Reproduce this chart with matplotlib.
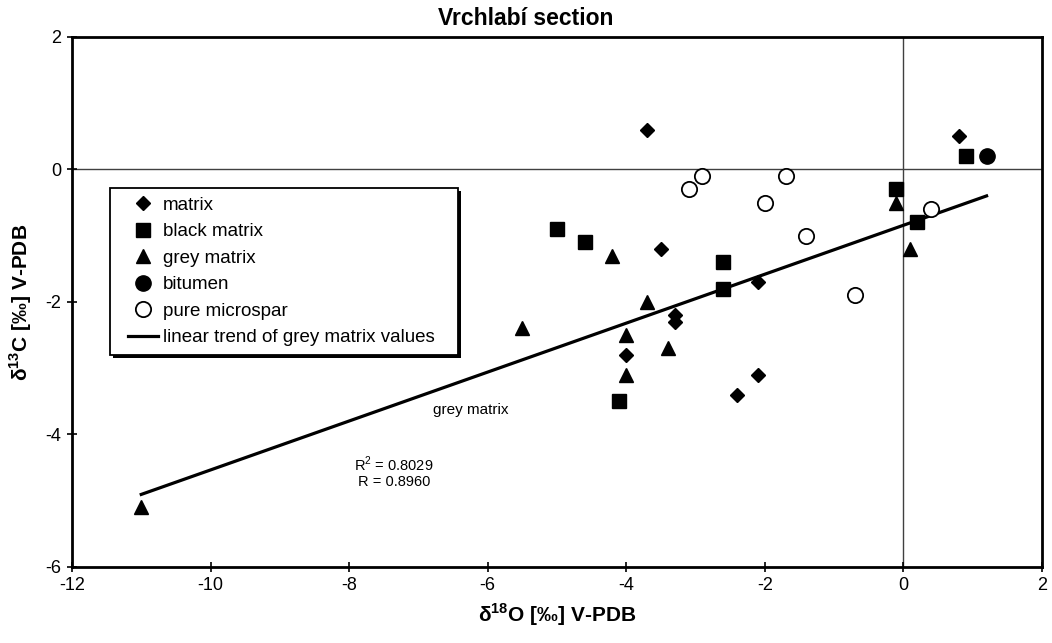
import matplotlib
matplotlib.use('Agg')
import matplotlib.pyplot as plt
from matplotlib.patches import Rectangle
import numpy as np

# delta18O / delta13C values
matrix_x = [-3.7, 0.8, -3.5, -2.1, -3.3, -3.3, -4.0, -2.1, -2.4]
matrix_y = [0.6, 0.5, -1.2, -1.7, -2.2, -2.3, -2.8, -3.1, -3.4]

black_x = [0.9, -0.1, 0.2, -5.0, -4.6, -2.6, -2.6, -4.1]
black_y = [0.2, -0.3, -0.8, -0.9, -1.1, -1.4, -1.8, -3.5]

grey_x = [-0.1, 0.1, -4.2, -3.7, -5.5, -4.0, -3.4, -4.0, -11.0]
grey_y = [-0.5, -1.2, -1.3, -2.0, -2.4, -2.5, -2.7, -3.1, -5.1]

bitumen_x = [1.2]
bitumen_y = [0.2]

micro_x = [-3.1, -2.9, -2.0, -1.7, -1.4, -0.7, 0.4]
micro_y = [-0.3, -0.1, -0.5, -0.1, -1.0, -1.9, -0.6]

plt.rcParams['font.family'] = ['Liberation Sans', 'DejaVu Sans']
plt.rcParams['mathtext.fontset'] = 'custom'
plt.rcParams['mathtext.rm'] = 'Liberation Sans'
plt.rcParams['mathtext.bf'] = 'Liberation Sans:bold'
plt.rcParams['axes.unicode_minus'] = False
narrow = ['Liberation Sans Narrow', 'Liberation Sans', 'DejaVu Sans']

fig = plt.figure(figsize=(10.52, 6.43), dpi=100)
ax = fig.add_axes([0.0684, 0.1182, 0.9221, 0.8243])

# zero lines
ax.axhline(0, color='#404040', lw=1, zorder=1)
ax.axvline(0, color='#404040', lw=1, zorder=1)

# linear trend of the grey matrix points, over the whole data range
slope, icpt = np.polyfit(grey_x, grey_y, 1)
all_x = matrix_x + black_x + grey_x + bitumen_x + micro_x
tx = np.array([min(all_x), max(all_x)])
ax.plot(tx, slope * tx + icpt, color='black', lw=2.3, zorder=2,
        label='linear trend of grey matrix values')

ax.plot(matrix_x, matrix_y, 'D', color='black', ms=7.5, ls='none', label='matrix', zorder=3)
ax.plot(black_x, black_y, 's', color='black', ms=10, ls='none', label='black matrix', zorder=3)
ax.plot(grey_x, grey_y, '^', color='black', ms=10, ls='none', label='grey matrix', zorder=3)
ax.plot(bitumen_x, bitumen_y, 'o', color='black', ms=11, ls='none', label='bitumen', zorder=3)
ax.plot(micro_x, micro_y, 'o', mfc='white', mec='black', mew=1.3, ms=11, ls='none',
        label='pure microspar', zorder=3)

ax.set_xlim(-12, 2)
ax.set_ylim(-6, 2)
ax.set_xticks(np.arange(-12, 3, 2))
ax.set_yticks(np.arange(-6, 3, 2))
ax.tick_params(direction='inout', length=7, width=1.2, labelsize=13, pad=4)
for lab in ax.get_xticklabels() + ax.get_yticklabels():
    lab.set_family(narrow)
for sp in ax.spines.values():
    sp.set_linewidth(2)

ax.set_xlabel('δ$^{\\mathbf{18}}$O [‰] V-PDB', fontsize=15, fontweight='bold', labelpad=5)
ax.set_ylabel('δ$^{\\mathbf{13}}$C [‰] V-PDB', fontsize=15, fontweight='bold', labelpad=8)
fig.text(0.5, 0.972, 'Vrchlabí section', ha='center', va='center', fontsize=16.5,
         fontweight='bold', family=narrow)

ax.text(-6.25, -3.63, 'grey matrix', fontsize=11, ha='center', va='center')
ax.text(-7.35, -4.57, 'R$^2$ = 0.8029\nR = 0.8960', fontsize=10.5, ha='center', va='center',
        linespacing=1.1)

# legend box with a hard black shadow, as in the original
sx, sy = 3 / 970, 3 / 530
box = dict(xy=(0.0392, 0.400), width=0.3588, height=0.3151, transform=ax.transAxes)
ax.add_patch(Rectangle((box['xy'][0] + sx, box['xy'][1] - sy), box['width'], box['height'],
                       transform=ax.transAxes, facecolor='black', edgecolor='none', zorder=4))
ax.add_patch(Rectangle(box['xy'], box['width'], box['height'], transform=ax.transAxes,
                       facecolor='white', edgecolor='black', lw=1.3, zorder=4.5))

handles, labels = ax.get_legend_handles_labels()
order = [1, 2, 3, 4, 5, 0]
leg = ax.legend([handles[i] for i in order], [labels[i] for i in order],
                loc='upper left', bbox_to_anchor=(0.0577, 0.699), borderaxespad=0,
                frameon=False, fontsize=13.5, labelspacing=0.5,
                handlelength=1.6, handletextpad=0.25, borderpad=0)
leg.set_zorder(5)

fig.savefig('out.png', dpi=100)
